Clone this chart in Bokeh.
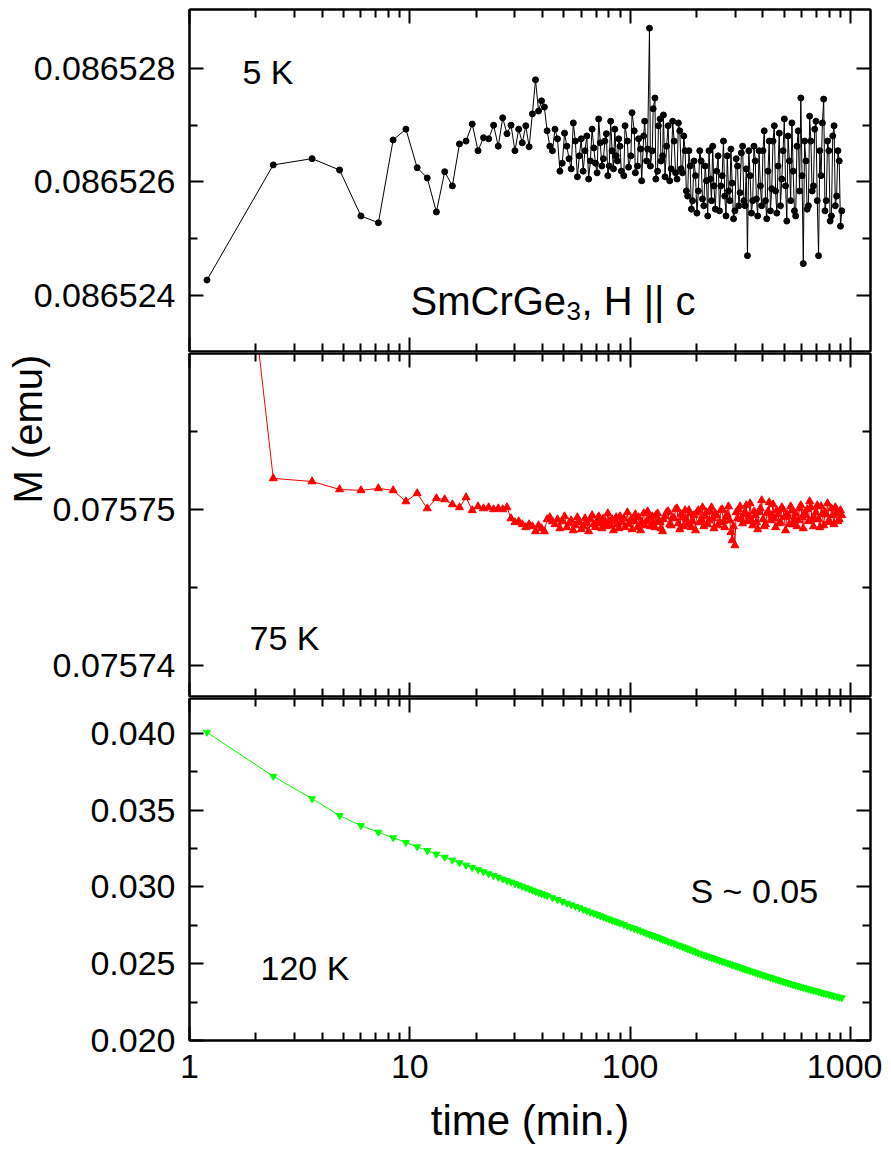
import math
from bokeh.plotting import figure
from bokeh.layouts import column
from bokeh.models import (LinearAxis, LogAxis, FixedTicker, PrintfTickFormatter,
                          Label, Range1d, Title)
from bokeh.embed import file_html
from bokeh.resources import INLINE

# ---------------- data ----------------
# sampling times of the 5 K and 75 K runs (min.)
time_min = [
    1.2, 2.4, 3.6, 4.8, 6.0, 7.2, 8.4, 9.6, 10.8, 12.0,
    13.2, 14.4, 15.6, 16.8, 18.0, 19.2, 20.4, 21.6, 22.8, 24.0,
    25.2, 26.4, 27.6, 28.8, 30.0, 31.2, 32.4, 33.6, 34.8, 36.0,
    37.2, 38.4, 39.6, 40.8, 42.0,
    43.2, 44.4, 45.6, 46.8, 48.0, 49.2, 50.4, 51.6, 52.8, 54.0,
    55.2, 56.4, 57.6, 58.8, 60.0, 61.2, 62.4, 63.6, 64.8, 66.0,
    67.2, 68.4, 69.6, 70.8, 72.0, 73.2, 74.4, 75.6, 76.8, 78.0,
    79.2, 80.4, 81.6, 82.8, 84.0, 85.2, 86.4, 87.6, 88.8, 90.0,
    91.2, 93.6, 94.8, 97.2, 98.4, 100.8, 102.0, 104.4, 105.6, 108.0,
    109.2, 111.6, 112.8, 115.2, 116.4, 118.8, 120.0, 122.4, 123.6, 126.0,
    127.2, 129.6, 130.8, 133.2, 134.4, 136.8, 138.0, 140.4, 141.6, 144.0,
    146.4, 148.8, 151.2, 153.6, 156.0, 158.4, 160.8, 163.2, 165.6, 168.0,
    170.4, 172.8, 175.2, 177.6, 180.0, 182.4, 184.8, 187.2, 189.6, 192.0,
    195.0, 198.0, 201.0, 204.0, 207.0, 210.0, 213.0, 216.0, 219.0, 222.0,
    225.0, 228.0, 231.0, 234.0, 237.0, 240.0, 243.6, 247.2, 250.8, 254.4,
    258.0, 261.6, 265.2, 268.8, 272.4, 276.0, 279.6, 283.2, 286.8, 290.4,
    294.6, 298.8, 303.0, 307.2, 311.4, 315.6, 319.8, 324.0, 328.2, 332.4,
    336.6, 340.8, 345.6, 350.4, 355.2, 360.0, 364.8, 369.6, 374.4, 379.2,
    384.6, 390.0, 395.4, 400.8, 406.2, 411.6, 417.0, 422.4, 427.8, 433.2,
    439.2, 445.2, 451.2, 457.2, 463.2, 469.2, 475.2, 481.2, 487.8, 494.4,
    501.0, 507.6, 514.2, 520.8, 528.0, 535.2, 542.4, 549.6, 556.8, 564.0,
    571.8, 579.6, 587.4, 595.2, 603.0, 610.8, 619.2, 627.6, 636.0, 644.4,
    652.8, 661.2, 670.2, 679.2, 688.2, 697.2, 706.8, 716.4, 726.0, 735.6,
    745.8, 756.0, 766.2, 776.4, 787.2, 798.0, 808.8, 819.6, 831.0, 842.4,
    853.8, 865.2, 877.2, 889.2, 901.2, 913.2,
]

m_5K = [
    0.08652427, 0.08652630, 0.08652641, 0.08652621, 0.08652540, 0.08652528, 0.08652674, 0.08652693, 0.08652625, 0.08652607,
    0.08652547, 0.08652618, 0.08652593, 0.08652667, 0.08652672, 0.08652702, 0.08652655, 0.08652678, 0.08652676, 0.08652700,
    0.08652663, 0.08652713, 0.08652685, 0.08652700, 0.08652655, 0.08652693, 0.08652669, 0.08652699, 0.08652662, 0.08652720,
    0.08652780, 0.08652725, 0.08652743, 0.08652732, 0.08652690,
    0.08652663, 0.08652655, 0.08652693, 0.08652676, 0.08652619, 0.08652633, 0.08652686, 0.08652663, 0.08652641, 0.08652623,
    0.08652704, 0.08652672, 0.08652609, 0.08652646, 0.08652676, 0.08652619, 0.08652655, 0.08652681, 0.08652605, 0.08652637,
    0.08652693, 0.08652660, 0.08652633, 0.08652616, 0.08652711, 0.08652669, 0.08652628, 0.08652641, 0.08652672, 0.08652685,
    0.08652611, 0.08652628, 0.08652707, 0.08652655, 0.08652623, 0.08652693, 0.08652646, 0.08652637, 0.08652676, 0.08652663,
    0.08652619, 0.08652611, 0.08652699, 0.08652672, 0.08652626, 0.08652646, 0.08652722, 0.08652690, 0.08652616, 0.08652628,
    0.08652676, 0.08652658, 0.08652602, 0.08652681, 0.08652707, 0.08652637, 0.08652658, 0.08652871, 0.08652628, 0.08652655,
    0.08652729, 0.08652748, 0.08652605, 0.08652619, 0.08652699, 0.08652711, 0.08652637, 0.08652646, 0.08652718, 0.08652609,
    0.08652663, 0.08652699, 0.08652602, 0.08652623, 0.08652707, 0.08652672, 0.08652616, 0.08652605, 0.08652704, 0.08652690,
    0.08652623, 0.08652616, 0.08652681, 0.08652655, 0.08652584, 0.08652575, 0.08652655, 0.08652628, 0.08652552, 0.08652567,
    0.08652637, 0.08652611, 0.08652545, 0.08652584, 0.08652655, 0.08652637, 0.08652570, 0.08652558, 0.08652628, 0.08652602,
    0.08652540, 0.08652655, 0.08652605, 0.08652567, 0.08652663, 0.08652593, 0.08652552, 0.08652619, 0.08652646, 0.08652549,
    0.08652593, 0.08652611, 0.08652672, 0.08652575, 0.08652540, 0.08652646, 0.08652584, 0.08652567, 0.08652658, 0.08652598,
    0.08652535, 0.08652549, 0.08652641, 0.08652628, 0.08652558, 0.08652581, 0.08652651, 0.08652663, 0.08652567, 0.08652558,
    0.08652623, 0.08652470, 0.08652655, 0.08652611, 0.08652545, 0.08652567, 0.08652663, 0.08652637, 0.08652570, 0.08652540,
    0.08652655, 0.08652593, 0.08652558, 0.08652655, 0.08652690, 0.08652567, 0.08652535, 0.08652619, 0.08652672, 0.08652549,
    0.08652588, 0.08652672, 0.08652699, 0.08652584, 0.08652545, 0.08652628, 0.08652686, 0.08652558, 0.08652605, 0.08652655,
    0.08652711, 0.08652593, 0.08652531, 0.08652681, 0.08652637, 0.08652567, 0.08652704, 0.08652619, 0.08652549, 0.08652540,
    0.08652663, 0.08652690, 0.08652584, 0.08652748, 0.08652611, 0.08652456, 0.08652672, 0.08652637, 0.08652552, 0.08652558,
    0.08652716, 0.08652672, 0.08652584, 0.08652593, 0.08652693, 0.08652707, 0.08652567, 0.08652470, 0.08652655, 0.08652611,
    0.08652704, 0.08652746, 0.08652549, 0.08652567, 0.08652672, 0.08652655, 0.08652531, 0.08652540, 0.08652681, 0.08652699,
    0.08652558, 0.08652575, 0.08652655, 0.08652637, 0.08652522, 0.08652549,
]

m_75K = [
    0.07578960, 0.07575199, 0.07575179, 0.07575128, 0.07575122, 0.07575135, 0.07575122, 0.07575051, 0.07575103, 0.07575006,
    0.07575071, 0.07575064, 0.07575032, 0.07575013, 0.07575077, 0.07574994, 0.07575019, 0.07575006, 0.07575013, 0.07575000,
    0.07575006, 0.07575000, 0.07575013, 0.07574942, 0.07574917, 0.07574923, 0.07574904, 0.07574885, 0.07574904, 0.07574891,
    0.07574859, 0.07574897, 0.07574878, 0.07574859, 0.07574936,
    0.07574949, 0.07574923, 0.07574904, 0.07574936, 0.07574878, 0.07574923, 0.07574955, 0.07574885, 0.07574910, 0.07574929,
    0.07574865, 0.07574897, 0.07574949, 0.07574917, 0.07574872, 0.07574891, 0.07574942, 0.07574910, 0.07574859, 0.07574936,
    0.07574962, 0.07574904, 0.07574885, 0.07574923, 0.07574955, 0.07574910, 0.07574878, 0.07574942, 0.07574917, 0.07574891,
    0.07574974, 0.07574923, 0.07574897, 0.07574936, 0.07574865, 0.07574929, 0.07574949, 0.07574904, 0.07574878, 0.07574955,
    0.07574917, 0.07574942, 0.07574885, 0.07574981, 0.07574904, 0.07574936, 0.07574872, 0.07574923, 0.07574968, 0.07574885,
    0.07574949, 0.07574865, 0.07574917, 0.07574974, 0.07574897, 0.07574923, 0.07574987, 0.07574942, 0.07574891, 0.07574955,
    0.07574917, 0.07574885, 0.07574962, 0.07574974, 0.07574929, 0.07574917, 0.07574878, 0.07574859, 0.07574936, 0.07574955,
    0.07574981, 0.07574987, 0.07574904, 0.07574897, 0.07574949, 0.07574942, 0.07575000, 0.07575006, 0.07574910, 0.07574872,
    0.07574968, 0.07574949, 0.07574891, 0.07574994, 0.07574936, 0.07574904, 0.07574994, 0.07574974, 0.07574885, 0.07574923,
    0.07574962, 0.07574865, 0.07574981, 0.07574994, 0.07574917, 0.07574936, 0.07575013, 0.07574891, 0.07574955, 0.07574981,
    0.07574904, 0.07574929, 0.07574987, 0.07575013, 0.07574942, 0.07574878, 0.07574974, 0.07574962, 0.07574897, 0.07574917,
    0.07574994, 0.07575000, 0.07574923, 0.07574885, 0.07574949, 0.07574968, 0.07575019, 0.07574929, 0.07574853, 0.07574801,
    0.07574891, 0.07574769, 0.07574981, 0.07574942, 0.07575000, 0.07575019, 0.07574936, 0.07574910, 0.07574968, 0.07574981,
    0.07575026, 0.07574923, 0.07574955, 0.07575038, 0.07574929, 0.07574897, 0.07574987, 0.07574962, 0.07574917, 0.07574872,
    0.07574981, 0.07575006, 0.07575058, 0.07574936, 0.07574891, 0.07574904, 0.07574974, 0.07574987, 0.07575045, 0.07574929,
    0.07574962, 0.07575032, 0.07574942, 0.07574885, 0.07574994, 0.07574968, 0.07574910, 0.07574917, 0.07575013, 0.07575000,
    0.07574949, 0.07574865, 0.07574968, 0.07574955, 0.07574904, 0.07575019, 0.07574994, 0.07574904, 0.07574936, 0.07574974,
    0.07574891, 0.07574929, 0.07575006, 0.07575026, 0.07574949, 0.07574878, 0.07574974, 0.07574962, 0.07575000, 0.07574923,
    0.07575051, 0.07575013, 0.07574936, 0.07574891, 0.07574942, 0.07574981, 0.07575026, 0.07574936, 0.07574885, 0.07575019,
    0.07574968, 0.07574897, 0.07574981, 0.07574968, 0.07575038, 0.07574929, 0.07574917, 0.07575006, 0.07574962, 0.07574904,
    0.07575013, 0.07574974, 0.07574923, 0.07574936, 0.07574994, 0.07574962,
]

# sampling times of the 120 K run (min.)
time_120K = [
    1.2, 2.4, 3.6, 4.8, 6.0, 7.2, 8.4, 9.6, 10.8, 12.0,
    13.2, 14.4, 15.6, 16.8, 18.0, 19.2, 20.4, 21.6, 22.8, 24.0,
    25.2, 26.4, 27.6, 28.8, 30.0, 31.2, 32.4, 33.6, 34.8, 36.0,
    37.2, 38.4, 39.6, 40.8, 42.0,
    44.4, 46.8, 49.2, 51.6, 54.0, 56.4, 58.8, 61.2, 63.6, 66.0,
    68.4, 70.8, 73.2, 75.6, 78.0, 80.4, 82.8, 85.2, 87.6, 90.0,
    93.6, 97.2, 100.8, 104.4, 108.0, 111.6, 115.2, 118.8, 122.4, 126.0,
    129.6, 133.2, 136.8, 140.4, 144.0, 148.8, 153.6, 158.4, 163.2, 168.0,
    172.8, 177.6, 182.4, 187.2, 192.0, 198.0, 204.0, 210.0, 216.0, 222.0,
    228.0, 234.0, 240.0, 247.2, 254.4, 261.6, 268.8, 276.0, 283.2, 290.4,
    298.8, 307.2, 315.6, 324.0, 332.4, 340.8, 350.4, 360.0, 369.6, 379.2,
    390.0, 400.8, 411.6, 422.4, 433.2, 445.2, 457.2, 469.2, 481.2, 494.4,
    507.6, 520.8, 535.2, 549.6, 564.0, 579.6, 595.2, 610.8, 627.6, 644.4,
    661.2, 679.2, 697.2, 716.4, 735.6, 756.0, 776.4, 798.0, 819.6, 842.4,
    865.2, 889.2, 913.2,
]

m_120K = [
    0.04008, 0.03721, 0.03575, 0.03465, 0.03400, 0.03357, 0.03321, 0.03290, 0.03262, 0.03237,
    0.03214, 0.03194, 0.03175, 0.03158, 0.03142, 0.03127, 0.03112, 0.03099, 0.03086, 0.03074,
    0.03063, 0.03052, 0.03041, 0.03032, 0.03022, 0.03013, 0.03004, 0.02995, 0.02987, 0.02979,
    0.02971, 0.02964, 0.02957, 0.02950, 0.02943,
    0.02930, 0.02918, 0.02906, 0.02894, 0.02884, 0.02874, 0.02864, 0.02854, 0.02845, 0.02836,
    0.02828, 0.02820, 0.02812, 0.02805, 0.02797, 0.02790, 0.02783, 0.02777, 0.02770, 0.02764,
    0.02755, 0.02745, 0.02737, 0.02729, 0.02721, 0.02713, 0.02706, 0.02698, 0.02691, 0.02685,
    0.02678, 0.02672, 0.02665, 0.02659, 0.02653, 0.02645, 0.02638, 0.02630, 0.02623, 0.02617,
    0.02610, 0.02604, 0.02597, 0.02591, 0.02585, 0.02577, 0.02569, 0.02563, 0.02557, 0.02551,
    0.02545, 0.02540, 0.02534, 0.02528, 0.02521, 0.02515, 0.02510, 0.02504, 0.02499, 0.02493,
    0.02487, 0.02481, 0.02475, 0.02470, 0.02464, 0.02459, 0.02453, 0.02448, 0.02442, 0.02437,
    0.02431, 0.02426, 0.02420, 0.02415, 0.02410, 0.02405, 0.02399, 0.02394, 0.02389, 0.02384,
    0.02378, 0.02374, 0.02368, 0.02364, 0.02359, 0.02354, 0.02349, 0.02345, 0.02340, 0.02335,
    0.02331, 0.02326, 0.02322, 0.02317, 0.02313, 0.02308, 0.02304, 0.02299, 0.02295, 0.02290,
    0.02286, 0.02282, 0.02278,
]

assert len(time_min) == len(m_5K) == len(m_75K)
assert len(time_120K) == len(m_120K)

x_major_ticks = [1, 10, 100, 1000]
y5_major = [0.086524, 0.086526, 0.086528]
y5_minor = [0.086525, 0.086527]
y75_major = [0.07574, 0.07575]
y75_minor = [0.075745, 0.075755]
y120_major = [0.020, 0.025, 0.030, 0.035, 0.040]
y120_minor = [0.0225, 0.0275, 0.0325, 0.0375]

FONT = "Liberation Sans"
x_minor_ticks = [m * d for d in (1, 10, 100) for m in range(2, 10)]
x_range = Range1d(1, 1233)


def style_axis(ax, show_labels):
    ax.axis_line_width = 2
    ax.axis_line_color = "black"
    ax.major_tick_in = 14
    ax.major_tick_out = 0
    ax.minor_tick_in = 8
    ax.minor_tick_out = 0
    ax.major_tick_line_width = 2
    ax.minor_tick_line_width = 2
    ax.major_tick_line_color = "black"
    ax.minor_tick_line_color = "black"
    if show_labels:
        ax.major_label_text_font = FONT
        ax.major_label_text_font_size = "34px"
        ax.major_label_text_color = "black"
    else:
        ax.major_label_text_color = None


def make_panel(frame_h, yr, ymaj, ymin, yfmt, top_border=1, bottom_labels=False):
    p = figure(x_axis_type="log", x_range=x_range, y_range=Range1d(*yr),
               frame_width=681, frame_height=frame_h,
               min_border_left=189, min_border_right=12,
               min_border_top=top_border, min_border_bottom=1,
               x_axis_location=None, y_axis_location=None,
               output_backend="svg", toolbar_location=None)
    p.xgrid.visible = False
    p.ygrid.visible = False
    p.outline_line_color = "black"
    p.outline_line_width = 2
    p.background_fill_color = "white"
    p.border_fill_color = "white"

    xt = FixedTicker(ticks=x_major_ticks, minor_ticks=x_minor_ticks)
    yt = FixedTicker(ticks=ymaj, minor_ticks=ymin)

    top = LogAxis(ticker=xt)
    style_axis(top, False)
    p.add_layout(top, "above")

    bot = LogAxis(ticker=xt, formatter=PrintfTickFormatter(format="%d"))
    style_axis(bot, bottom_labels)
    if bottom_labels:
        bot.major_label_standoff = 14
        bot.axis_label = "time (min.)"
        bot.axis_label_text_font = FONT
        bot.axis_label_text_font_size = "42px"
        bot.axis_label_text_font_style = "normal"
        bot.axis_label_text_color = "black"
        bot.axis_label_standoff = 16
    p.add_layout(bot, "below")

    left = LinearAxis(ticker=yt, formatter=PrintfTickFormatter(format=yfmt))
    style_axis(left, True)
    left.major_label_standoff = 14
    p.add_layout(left, "left")

    right = LinearAxis(ticker=yt)
    style_axis(right, False)
    p.add_layout(right, "right")
    return p


def add_text(p, x, y, text, size="34px"):
    p.add_layout(Label(x=x, y=y, x_units="screen", y_units="screen", text=text,
                       text_font=FONT, text_font_size=size, text_color="black",
                       text_align="left", text_baseline="alphabetic"))


# top panel: 5 K
p1 = make_panel(342, (0.08652301, 0.08652904), y5_major, y5_minor, "%.6f", top_border=9)
p1.line(time_min, m_5K, line_color="black", line_width=1)
p1.scatter(time_min, m_5K, marker="circle", size=6, fill_color="black", line_color="black")
add_text(p1, 53, 280, "5 K")
add_text(p1, 221, 51, "SmCrGe", "40px")
add_text(p1, 377, 41, "3", "26px")
add_text(p1, 392, 51, ", H || c", "40px")

# middle panel: 75 K
p2 = make_panel(343, (0.075738, 0.07576), y75_major, y75_minor, "%.5f")
p2.line(time_min, m_75K, line_color="red", line_width=1)
p2.scatter(time_min, m_75K, marker="triangle", size=8, fill_color="red", line_color="red")
add_text(p2, 60, 59, "75 K")
p2.add_layout(Title(text="M (emu)", align="left", offset=193, standoff=0,
                    text_font=FONT, text_font_size="40px", text_font_style="normal",
                    text_color="black"), "left")

# bottom panel: 120 K
p3 = make_panel(342, (0.020, 0.04228), y120_major, y120_minor, "%.3f", bottom_labels=True)
p3.line(time_120K, m_120K, line_color="#00FF00", line_width=1)
p3.scatter(time_120K, m_120K, marker="inverted_triangle", size=7,
           fill_color="#00FF00", line_color="#00FF00")
add_text(p3, 71, 73, "120 K")
add_text(p3, 501, 150, "S ~ 0.05")

layout = column(p1, p2, p3, spacing=0)
open("out.html", "w").write(file_html(layout, INLINE))
